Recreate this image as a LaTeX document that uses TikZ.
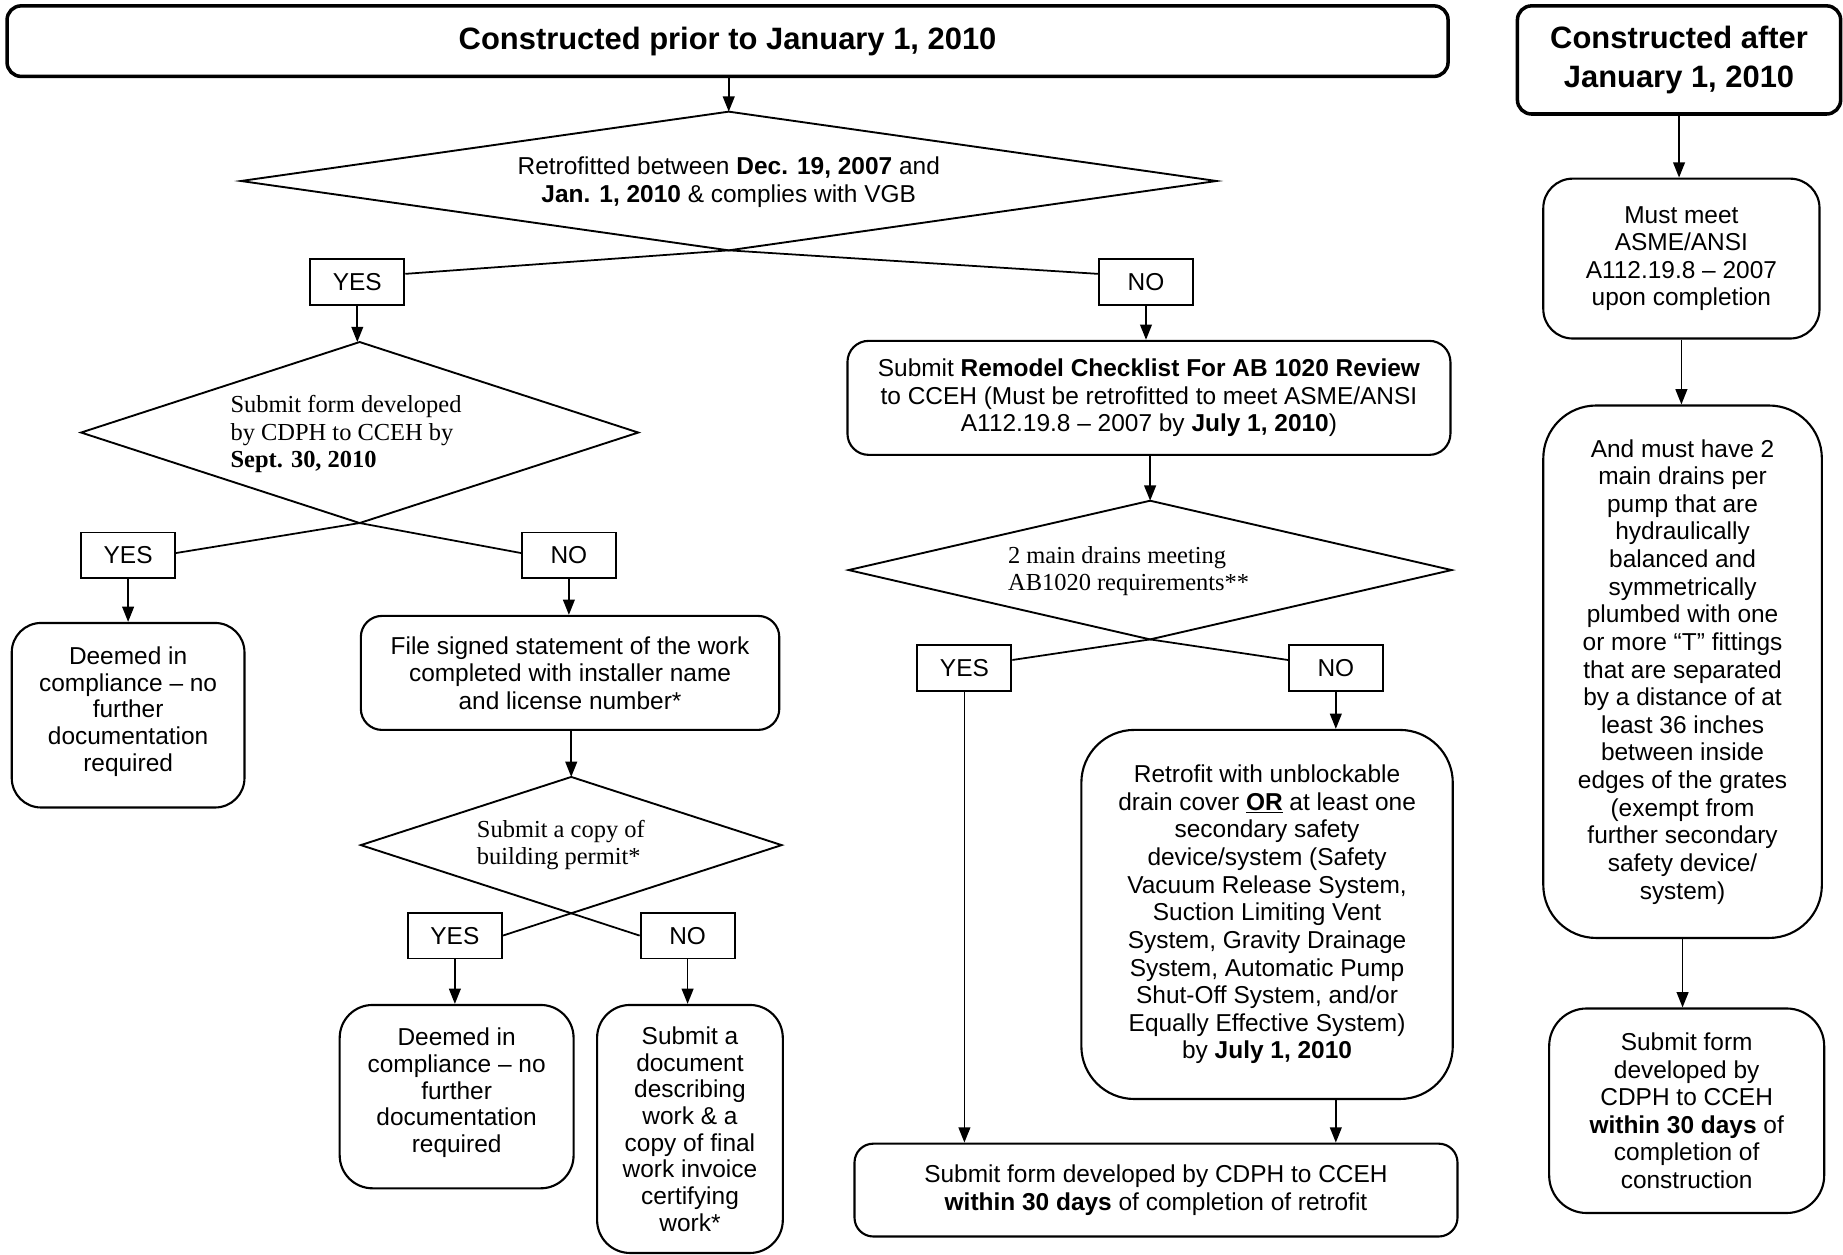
\documentclass[tikz,border=0pt]{standalone}
\usepackage{fontspec}
\setmainfont{Liberation Sans}
\newfontfamily\seriffam{Liberation Serif}
\usetikzlibrary{shapes.geometric,arrows.meta}
\begin{document}
\begin{tikzpicture}[x=1pt,y=-1pt,
  txt/.style={font=\fontsize{20.8}{23.5}\selectfont},
  tight/.style={font=\fontsize{20.8}{22.7}\selectfont},
  box/.style={draw,line width=1.8pt,rounded corners=#1,align=center,inner sep=0pt,txt},
  box/.default=16pt,
  hdr/.style={draw,line width=3pt,rounded corners=12pt,align=center,inner sep=0pt,font=\bfseries\fontsize{26.3}{33}\selectfont},
  lbl/.style={draw,line width=1.6pt,minimum width=80pt,minimum height=39pt,inner sep=0pt,txt},
  dia/.style={draw,diamond,line width=1.6pt,inner sep=0pt,outer sep=0pt},
  dtxt/.style={font=\seriffam\fontsize{20.8}{23.5}\selectfont,align=left,inner sep=0pt,anchor=west},
  arr/.style={line width=1.5pt,-{Triangle[length=13pt,width=10pt]}},
  ln/.style={line width=1.5pt}
]
\useasboundingbox (0,0) rectangle (1568,1067);

% headers
\node[hdr,minimum width=1226pt,minimum height=60pt] (h1) at (619,35) {Constructed prior to January 1, 2010};
\node[hdr,minimum width=275pt,minimum height=92pt] (h2) at (1428.5,51) {Constructed after\\January 1, 2010};

% first decision
\node[dia,minimum width=830pt,minimum height=118pt] (d1) at (620,154) {};
\node[txt,align=center,inner sep=0pt] (d1t) at (620,155) {Retrofitted between \textbf{Dec. 19, 2007} and\\\textbf{Jan. 1, 2010} \& complies with VGB};
\node[lbl] (y1) at (304,240) {YES};
\node[lbl] (n1) at (975,240) {NO};

% left branch
\node[dia,minimum width=474pt,minimum height=154pt] (d2) at (306,368) {};
\node[dtxt] (d2t) at (196,369.5) {Submit form developed\\by CDPH to CCEH by\\\textbf{Sept. 30, 2010}};
\node[lbl] (y2) at (109,472.5) {YES};
\node[lbl] (n2) at (484,472.5) {NO};
\node[box=25pt,tight,minimum width=198pt,minimum height=157pt] (c1) at (109,608.5) {Deemed in\\compliance – no\\further\\documentation\\required\\[-12pt]};
\node[box=18pt,minimum width=356pt,minimum height=97pt] (fs) at (485,572.5) {File signed statement of the work\\completed with installer name\\and license number*};
\node[dia,minimum width=358pt,minimum height=116pt] (d3) at (486,719) {};
\node[dtxt] (d3t) at (405.6,719) {Submit a copy of\\building permit*};
\node[lbl] (y3) at (387,796) {YES};
\node[lbl] (n3) at (585,796) {NO};
\node[box=28pt,tight,minimum width=199pt,minimum height=156pt] (c2) at (388.5,933) {Deemed in\\compliance – no\\further\\documentation\\required\\[-12pt]};
\node[box=28pt,tight,minimum width=158pt,minimum height=211pt] (sd) at (587,960.5) {Submit a\\document\\describing\\work \& a\\copy of final\\work invoice\\certifying\\work*};

% middle branch
\node[box=18pt,minimum width=513pt,minimum height=97pt] (rm) at (977.5,338.5) {Submit \textbf{Remodel Checklist For AB 1020 Review}\\to CCEH (Must be retrofitted to meet ASME/ANSI\\A112.19.8 – 2007 by \textbf{July 1, 2010})};
\node[dia,minimum width=513pt,minimum height=118pt] (d4) at (978.5,485) {};
\node[dtxt] (d4t) at (857.5,486) {2 main drains meeting\\AB1020 requirements**};
\node[lbl] (y4) at (820.5,568.5) {YES};
\node[lbl] (n4) at (1136.5,568.5) {NO};
\node[box=45pt,minimum width=316pt,minimum height=314pt] (rf) at (1078,778) {Retrofit with unblockable\\drain cover \underline{\textbf{OR}} at least one\\secondary safety\\device/system (Safety\\Vacuum Release System,\\Suction Limiting Vent\\System, Gravity Drainage\\System, Automatic Pump\\Shut-Off System, and/or\\Equally Effective System)\\by \textbf{July 1, 2010}};
\node[box=16pt,minimum width=513pt,minimum height=79pt] (fn) at (983.5,1012.5) {Submit form developed by CDPH to CCEH\\\textbf{within 30 days} of completion of retrofit};

% right column
\node[box=25pt,minimum width=235pt,minimum height=136pt] (mm) at (1430.5,220) {Must meet\\ASME/ANSI\\A112.19.8 – 2007\\upon completion};
\node[box=45pt,minimum width=237pt,minimum height=453pt] (am) at (1431.5,571.5) {And must have 2\\main drains per\\pump that are\\hydraulically\\balanced and\\symmetrically\\plumbed with one\\or more “T” fittings\\that are separated\\by a distance of at\\least 36 inches\\between inside\\edges of the grates\\(exempt from\\further secondary\\safety device/\\system)};
\node[box=32pt,minimum width=234pt,minimum height=174pt] (lb) at (1435,945) {Submit form\\developed by\\CDPH to CCEH\\\textbf{within 30 days} of\\completion of\\construction};

% connectors
\draw[arr] (h1.south -| d1.north) -- (d1.north);
\draw[ln] (d1.south) -- ([yshift=7pt]y1.east);
\draw[ln] (d1.south) -- ([yshift=7pt]n1.west);
\draw[arr] (y1.south) -- (y1.south |- d2.north);
\draw[arr] (n1.south) -- (n1.south |- rm.north);
\draw[ln] (d2.south) -- ([yshift=2pt]y2.east);
\draw[ln] (d2.south) -- ([yshift=2pt]n2.west);
\draw[arr] (y2.south) -- (y2.south |- c1.north);
\draw[arr] (n2.south) -- (n2.south |- fs.north);
\draw[arr] (fs.south -| d3.north) -- (d3.north);
\draw[ln] (d3.south) -- (y3.east);
\draw[ln] (d3.south) -- (n3.west);
\draw[arr] (y3.south) -- (y3.south |- c2.north);
\draw[arr] (n3.south) -- (n3.south |- sd.north);
\draw[arr] (rm.south -| d4.north) -- (d4.north);
\draw[ln] (d4.south) -- ([yshift=7pt]y4.east);
\draw[ln] (d4.south) -- ([yshift=7pt]n4.west);
\draw[arr] (y4.south) -- (y4.south |- fn.north);
\draw[arr] (n4.south) -- (n4.south |- rf.north);
\draw[arr] (n4.south |- rf.south) -- (n4.south |- fn.north);
\draw[arr] (h2.south) -- (h2.south |- mm.north);
\draw[arr] (mm.south) -- (mm.south |- am.north);
\draw[arr] (am.south) -- (am.south |- lb.north);
\end{tikzpicture}
\end{document}
